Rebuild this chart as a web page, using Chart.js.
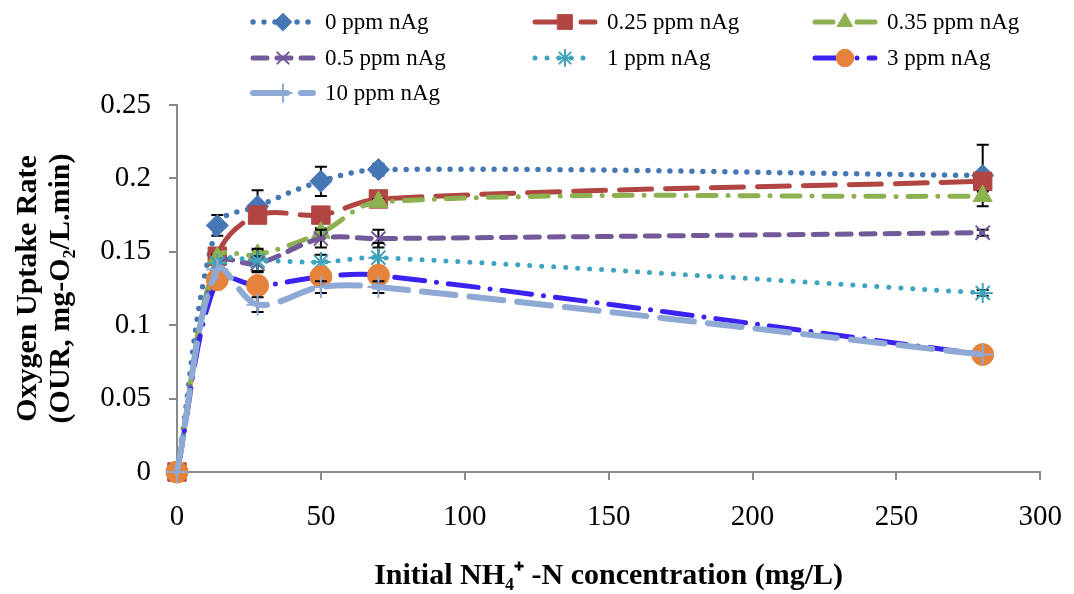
<!DOCTYPE html>
<html>
<head>
<meta charset="utf-8">
<title>Oxygen Uptake Rate vs NH4-N</title>
<script src="https://cdn.jsdelivr.net/npm/chart.js@4.4.0/dist/chart.umd.min.js"></script>
<style>
  html, body { margin: 0; padding: 0; background: #fff; }
  #wrap { width: 1074px; height: 594px; position: relative; }
</style>
</head>
<body>
<div id="wrap"><canvas id="ourChart"></canvas></div>
<script>
// initial NH4+-N concentration (mg/L)
const concentrations = [0, 14, 28, 50, 70, 280];

const seriesLabels = ['0 ppm nAg', '0.25 ppm nAg', '0.35 ppm nAg', '0.5 ppm nAg', '1 ppm nAg', '3 ppm nAg', '10 ppm nAg'];

// OUR values (mg-O2/L.min)
const our0 = [0, 0.168, 0.181, 0.198, 0.206, 0.202];
const our025 = [0, 0.147, 0.175, 0.175, 0.186, 0.198];
const our035 = [0, 0.146, 0.148, 0.163, 0.184, 0.188];
const our05 = [0, 0.142, 0.142, 0.159, 0.159, 0.163];
const our1 = [0, 0.142, 0.144, 0.143, 0.146, 0.122];
const our3 = [0, 0.131, 0.127, 0.133, 0.134, 0.080];
const our10 = [0, 0.138, 0.114, 0.126, 0.126, 0.080];

// error bar half-widths
const err0 = [0, 0.007, 0.011, 0.010, 0.004, 0.021];
const err025 = [0, 0.002, 0.003, 0.003, 0.002, 0.003];
const err035 = [0, 0.002, 0.003, 0.003, 0.002, 0.003];
const err05 = [0, 0, 0.005, 0.006, 0.006, 0.002];
const err1 = [0, 0, 0.008, 0.005, 0.010, 0.002];
const err3 = [0, 0, 0.004, 0.003, 0.003, 0];
const err10 = [0, 0, 0.005, 0.004, 0.004, 0];

const yTicks = [0, 0.05, 0.1, 0.15, 0.2, 0.25];

const serif = '"Liberation Serif", "Times New Roman", serif';
const axisGray = '#898989';

function pts(values) {
    return values.map((v, i) => ({ x: concentrations[i], y: v }));
}

function makeSet(i, values, errors, style) {
    return Object.assign({
        label: seriesLabels[i],
        data: pts(values),
        errors: errors,
        order: 6 - i,
        showLine: true,
        fill: false,
        tension: 0.35,
        clip: 14,
        borderCapStyle: 'round',
        pointBorderWidth: 1
    }, style);
}

const datasets = [
    makeSet(0, our0, err0, {
        borderColor: '#4677B5', borderWidth: 5.5, borderDash: [0, 11],
        pointStyle: 'rectRot', pointRadius: 11,
        pointBackgroundColor: '#4677B5', pointBorderColor: '#4677B5'
    }),
    makeSet(1, our025, err025, {
        borderColor: '#B04541', borderWidth: 5, borderDash: [32, 14],
        pointStyle: 'rect', pointRadius: 13,
        pointBackgroundColor: '#B04541', pointBorderColor: '#B04541'
    }),
    makeSet(2, our035, err035, {
        borderColor: '#8DB150', borderWidth: 5, borderDash: [18, 12, 0, 12],
        pointStyle: 'triangle', pointRadius: 11,
        pointBackgroundColor: '#8DB150', pointBorderColor: '#8DB150'
    }),
    makeSet(3, our05, err05, {
        borderColor: '#72599A', borderWidth: 5, borderDash: [14, 10],
        pointStyle: 'crossRot', pointRadius: 10, pointBorderWidth: 2,
        pointBackgroundColor: '#72599A', pointBorderColor: '#72599A'
    }),
    makeSet(4, our1, err1, {
        borderColor: '#3DA3BE', borderWidth: 5, borderDash: [0, 12],
        pointStyle: 'star', pointRadius: 10, pointBorderWidth: 2,
        pointBackgroundColor: '#3DA3BE', pointBorderColor: '#3DA3BE'
    }),
    makeSet(5, our3, err3, {
        borderColor: '#3A22F0', borderWidth: 5, borderDash: [30, 12, 0, 12],
        pointStyle: 'circle', pointRadius: 11,
        pointBackgroundColor: '#E5833A', pointBorderColor: '#E5833A'
    }),
    makeSet(6, our10, err10, {
        borderColor: '#8DA9D4', borderWidth: 6, borderDash: [34, 14],
        pointStyle: 'cross', pointRadius: 11, pointBorderWidth: 2,
        pointBackgroundColor: '#8DA9D4', pointBorderColor: '#8DA9D4'
    })
];

// black error bars with caps, drawn just before each dataset so its own marker sits on top
const errorBars = {
    id: 'errorBars',
    beforeDatasetDraw(chart, args) {
        const ds = chart.data.datasets[args.index];
        if (!ds.errors) return;
        const ctx = chart.ctx;
        const xs = chart.scales.x, ys = chart.scales.y;
        ctx.save();
        ctx.strokeStyle = '#000';
        ctx.lineWidth = 2;
        ds.data.forEach((p, i) => {
            const e = ds.errors[i];
            if (!e) return;
            const px = xs.getPixelForValue(p.x);
            const top = ys.getPixelForValue(p.y + e);
            const bot = ys.getPixelForValue(p.y - e);
            ctx.beginPath();
            ctx.moveTo(px, top); ctx.lineTo(px, bot);
            ctx.moveTo(px - 6, top); ctx.lineTo(px + 6, top);
            ctx.moveTo(px - 6, bot); ctx.lineTo(px + 6, bot);
            ctx.stroke();
        });
        ctx.restore();
    }
};

// three-column legend like the original
const legendColX = [250, 532, 812];
const legendRowY = [22, 58, 93];
const columnLegend = {
    id: 'columnLegend',
    afterDraw(chart) {
        const ctx = chart.ctx;
        chart.data.datasets.forEach((ds, i) => {
            const x0 = legendColX[i % 3];
            const y = legendRowY[Math.floor(i / 3)];
            ctx.save();
            ctx.strokeStyle = ds.borderColor;
            ctx.lineWidth = ds.borderWidth;
            ctx.lineCap = 'round';
            ctx.setLineDash(ds.borderDash);
            ctx.beginPath();
            ctx.moveTo(x0 + 3, y);
            ctx.lineTo(x0 + 63, y);
            ctx.stroke();
            ctx.setLineDash([]);
            ctx.fillStyle = ds.pointBackgroundColor;
            ctx.strokeStyle = ds.pointBorderColor;
            ctx.lineWidth = ds.pointBorderWidth;
            Chart.helpers.drawPoint(ctx, {
                pointStyle: ds.pointStyle,
                radius: ds.pointRadius * 0.8,
                borderWidth: ds.pointBorderWidth,
                rotation: 0
            }, x0 + 33, y);
            ctx.fillStyle = '#000';
            ctx.font = '23px ' + serif;
            ctx.textBaseline = 'middle';
            ctx.fillText(ds.label, x0 + 75, y + 1);
            ctx.restore();
        });
    }
};

const ctx = document.getElementById('ourChart').getContext('2d');
const ourChart = new Chart(ctx, {
    type: 'line',
    data: { datasets: datasets },
    plugins: [errorBars, columnLegend],
    options: {
        responsive: true,
        maintainAspectRatio: false,
        animation: false,
        events: [],
        layout: { padding: { top: 105, right: 30, left: 0, bottom: 0 } },
        plugins: {
            legend: { display: false },
            tooltip: { enabled: false }
        },
        scales: {
            x: {
                type: 'linear',
                min: 0,
                max: 300,
                ticks: {
                    stepSize: 50,
                    color: '#000',
                    padding: 12,
                    font: { family: serif, size: 29, lineHeight: 1.75 }
                },
                grid: { drawOnChartArea: false, tickLength: 8, color: axisGray, lineWidth: 2 },
                border: { color: axisGray, width: 2 },
                title: {
                    display: true,
                    text: 'Initial NH\u2084\u207A -N concentration (mg/L)',
                    color: '#000',
                    font: { family: serif, size: 30, weight: 'bold' },
                    padding: { top: 4, bottom: 0 }
                },
                afterFit(scale) { scale.height = 122; }
            },
            y: {
                min: 0,
                max: 0.25,
                afterBuildTicks(scale) { scale.ticks = yTicks.map(v => ({ value: v })); },
                ticks: {
                    color: '#000',
                    padding: 18,
                    font: { family: serif, size: 29 },
                    callback: v => String(+v.toFixed(2))
                },
                grid: { drawOnChartArea: false, tickLength: 8, color: axisGray, lineWidth: 2 },
                border: { color: axisGray, width: 2 },
                title: {
                    display: true,
                    text: ['Oxygen Uptake Rate', '(OUR, mg-O\u2082/L.min)'],
                    color: '#000',
                    font: { family: serif, size: 30, weight: 'bold', lineHeight: 1.1 },
                    padding: { top: 12, bottom: 0 }
                },
                afterFit(scale) { scale.width = 177; }
            }
        }
    }
});
</script>
</body>
</html>
